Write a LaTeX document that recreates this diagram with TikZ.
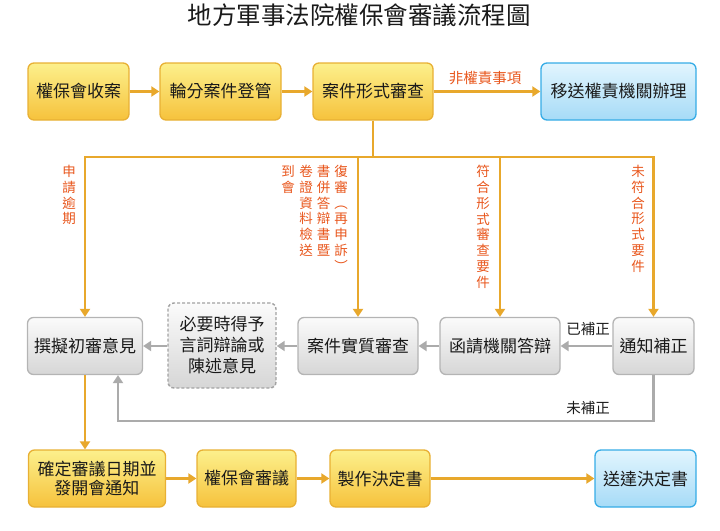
\documentclass[tikz,border=0pt]{standalone}
\usepackage{fontspec}
\newfontfamily\cjk{Noto Sans CJK TC}
\usetikzlibrary{arrows.meta}
\definecolor{ytop}{HTML}{FCF08C}
\definecolor{ybot}{HTML}{F6C23C}
\definecolor{yline}{HTML}{E8B034}
\definecolor{btop}{HTML}{E2F5FE}
\definecolor{bbot}{HTML}{A6DBF7}
\definecolor{bline}{HTML}{36ACE6}
\definecolor{gtop}{HTML}{FBFBFB}
\definecolor{gbot}{HTML}{D6D6D6}
\definecolor{gline}{HTML}{B4B4B4}
\definecolor{oarrow}{HTML}{E8A82C}
\definecolor{garrow}{HTML}{ABABAB}
\definecolor{lab}{HTML}{E8561C}
\definecolor{ink}{HTML}{1A1A1A}
\tikzset{
  box/.style={rectangle, rounded corners=6pt, line width=1.3pt, inner sep=0pt,
    align=center, text=ink, font=\cjk\fontsize{17}{21}\selectfont},
  ybox/.style={box, draw=yline, top color=ytop, bottom color=ybot},
  bbox/.style={box, draw=bline, top color=btop, bottom color=bbot},
  gbox/.style={box, draw=gline, top color=gtop, bottom color=gbot},
  dbox/.style={box, draw=gline!90!black, dashed, dash pattern=on 3pt off 2pt, line width=1.4pt, top color=gtop, bottom color=gbot},
  oline/.style={draw=oarrow, line width=2.8pt},
  gline/.style={draw=garrow, line width=2.8pt},
  otip/.style={-{Triangle[width=10pt,length=8pt]}},
  vlab/.style={anchor=north, inner sep=0pt, align=center, text=lab,
    font=\cjk\fontsize{13.5}{15.8}\selectfont},
  hlab/.style={inner sep=0pt, font=\cjk\fontsize{14.5}{17}\selectfont},
}
\begin{document}
\begin{tikzpicture}[x=1pt,y=-1pt]
\useasboundingbox (0,0) rectangle (720,530);
% title
\node[inner sep=0pt, text=ink, font=\cjk\fontsize{24.5}{27}\selectfont] (title) at (359,15) {地方軍事法院權保會審議流程圖};
% row 1
\node[ybox, minimum width=101pt, minimum height=57pt] (a) at (78.5,91.5) {權保會收案};
\node[ybox, minimum width=121pt, minimum height=57pt] (b) at (220.5,91.5) {輪分案件登管};
\node[ybox, minimum width=120pt, minimum height=57pt] (c) at (373,91.5) {案件形式審查};
\node[bbox, minimum width=155pt, minimum height=57pt] (d) at (618.5,91.5) {移送權責機關辦理};
% row 2
\node[gbox, minimum width=115pt, minimum height=57pt] (e) at (85,346) {撰擬初審意見};
\node[dbox, minimum width=108pt, minimum height=85pt, font=\cjk\fontsize{17}{21}\selectfont] (f) at (222,345.5) {必要時得予\\言詞辯論或\\陳述意見};
\node[gbox, minimum width=120pt, minimum height=57pt] (g) at (358,346) {案件實質審查};
\node[gbox, minimum width=120pt, minimum height=57pt] (h) at (500,346) {函請機關答辯};
\node[gbox, minimum width=81pt, minimum height=57pt] (n) at (653.5,346) {通知補正};
% row 3
\node[ybox, minimum width=137pt, minimum height=57pt, font=\cjk\fontsize{17}{19.5}\selectfont] (i) at (97,478.5) {確定審議日期並\\發開會通知};
\node[ybox, minimum width=99pt, minimum height=57pt] (j) at (246.5,478.5) {權保會審議};
\node[ybox, minimum width=100pt, minimum height=57pt] (k) at (380,478.5) {製作決定書};
\node[bbox, minimum width=101pt, minimum height=57pt] (m) at (645.5,478.5) {送達決定書};
% row 1 connectors
\draw[oline, otip] (a.east) -- (b.west);
\draw[oline, otip] (b.east) -- (c.west);
\draw[oline, otip] (c.east) -- (d.west);
\node[hlab, text=lab] (nq) at (485,78) {非權責事項};
% bus
\coordinate (busY) at (0,157);
\draw[oline, otip] (c.south) |- (e.north |- busY) -- (e.north);
\draw[oline, otip] (c.south) |- (n.north |- busY) -- (n.north);
\draw[oline, otip] (g.north |- busY) -- (g.north);
\draw[oline, otip] (h.north |- busY) -- (h.north);
% vertical labels
\node[vlab] (l1) at (69,165) {申\\請\\逾\\期};
\node[vlab] (l2a) at (341,165) {復\\審\\︵\\再\\申\\訴\\︶};
\node[vlab] (l2b) at (323.5,165) {書\\併\\答\\辯\\書\\暨};
\node[vlab] (l2c) at (306,165) {卷\\證\\資\\料\\檢\\送};
\node[vlab] (l2d) at (288,165) {到\\會};
\node[vlab] (l3) at (483,165) {符\\合\\形\\式\\審\\查\\要\\件};
\node[vlab] (l4) at (638,165) {未\\符\\合\\形\\式\\要\\件};
% row 2 connectors
\draw[gline, otip] (n.west) -- (h.east);
\draw[gline, otip] (h.west) -- (g.east);
\draw[gline, otip] (g.west) -- (f.east |- g.west);
\draw[gline, otip] (f.west |- e.east) -- (e.east);
\node[hlab, text=ink] (yb) at (588,329) {已補正};
\coordinate (loopY) at (0,421);
\coordinate (loopX) at (118,0);
\draw[gline, otip] (n.south) |- (loopX |- loopY) -- (loopX |- e.south);
\node[hlab, text=ink] (wb) at (588,408) {未補正};
% down to row 3
\draw[oline, otip] (e.south) -- (e.south |- i.north);
% row 3 connectors
\draw[oline, otip] (i.east) -- (j.west);
\draw[oline, otip] (j.east) -- (k.west);
\draw[oline, otip] (k.east) -- (m.west);
\end{tikzpicture}
\end{document}
